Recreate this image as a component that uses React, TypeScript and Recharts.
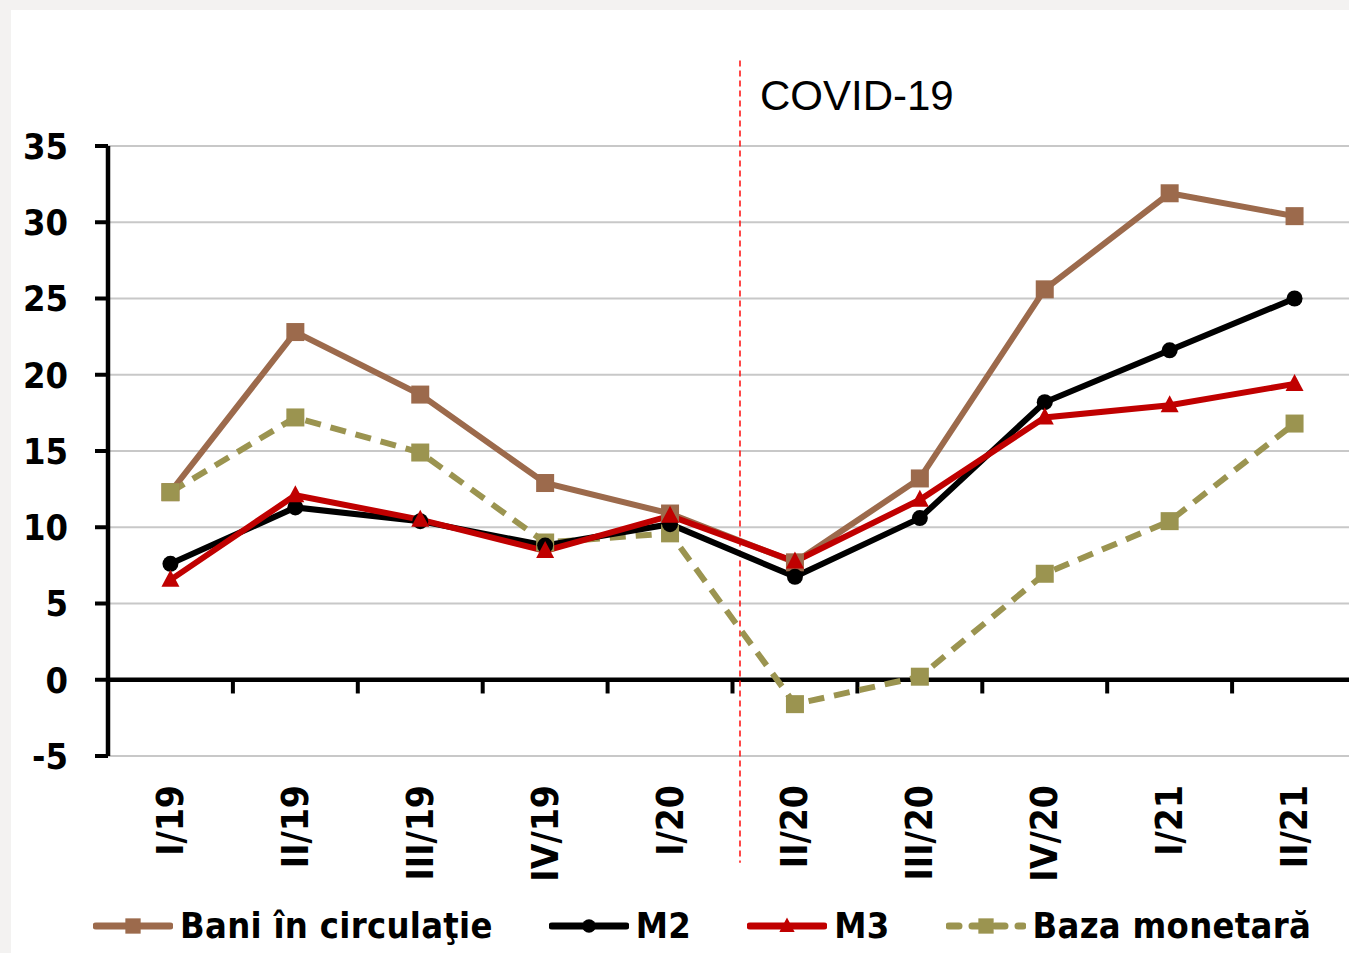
import React from "react";
import { LineChart, Line, XAxis, YAxis, CartesianGrid, ReferenceLine } from "recharts";

const quarters = ["I/19", "II/19", "III/19", "IV/19", "I/20", "II/20", "III/20", "IV/20", "I/21", "II/21"];
const baniInCirculatie = [12.3, 22.8, 18.7, 12.9, 10.9, 7.7, 13.2, 25.6, 31.9, 30.4];
const m2 = [7.6, 11.3, 10.4, 8.8, 10.2, 6.75, 10.6, 18.2, 21.6, 25.0];
const m3 = [6.55, 12.1, 10.5, 8.45, 10.75, 7.75, 11.8, 17.2, 18.0, 19.4];
const bazaMonetara = [12.3, 17.2, 14.9, 9.0, 9.6, -1.6, 0.2, 6.95, 10.4, 16.8];
const yTicks = [-5, 0, 5, 10, 15, 20, 25, 30, 35];
const covidX = 4.56;

const FONT = "'DejaVu Sans Condensed', 'DejaVu Sans', sans-serif";

type Shape = "square" | "circle" | "triangle";

const series: { key: string; name: string; color: string; shape: Shape; dashed?: boolean }[] = [
  { key: "bani", name: "Bani în circulaţie", color: "#9c6a4c", shape: "square" },
  { key: "baza", name: "Baza monetară", color: "#9b9450", shape: "square", dashed: true },
  { key: "m2", name: "M2", color: "#000000", shape: "circle" },
  { key: "m3", name: "M3", color: "#c00000", shape: "triangle" },
];
const legendOrder = ["bani", "m2", "m3", "baza"];

const data = quarters.map((q, i) => ({
  idx: i,
  q,
  bani: baniInCirculatie[i],
  m2: m2[i],
  m3: m3[i],
  baza: bazaMonetara[i],
}));

const boundaries = quarters.slice(1).map((_, i) => i + 0.5);

function marker(shape: Shape, color: string, cx: number, cy: number, s = 1) {
  if (shape === "square") {
    return <rect x={cx - 9 * s} y={cy - 9 * s} width={18 * s} height={18 * s} fill={color} />;
  }
  if (shape === "circle") {
    return <circle cx={cx} cy={cy} r={8 * s} fill={color} />;
  }
  return (
    <polygon
      points={`${cx},${cy - 10 * s} ${cx + 9 * s},${cy + 7 * s} ${cx - 9 * s},${cy + 7 * s}`}
      fill={color}
    />
  );
}

const makeDot = (shape: Shape, color: string) => (props: any) => {
  const { cx, cy, index } = props;
  if (cx == null || cy == null) return <g key={index} />;
  return <g key={index}>{marker(shape, color, cx, cy)}</g>;
};

const QuarterTick = (props: any) => {
  const { x, y, payload } = props;
  const ty = y + 29;
  return (
    <text
      x={x}
      y={ty}
      transform={`rotate(-90, ${x}, ${ty})`}
      textAnchor="end"
      dominantBaseline="central"
      fontFamily={FONT}
      fontWeight="bold"
      fontSize={37}
      fill="#000"
    >
      {quarters[payload.value]}
    </text>
  );
};

function LegendItem({ s }: { s: (typeof series)[number] }) {
  return (
    <div style={{ display: "flex", alignItems: "center", marginRight: 56 }}>
      <svg width={80} height={24} style={{ marginRight: 7 }}>
        <line
          x1={3}
          y1={12}
          x2={77}
          y2={12}
          stroke={s.color}
          strokeWidth={7}
          strokeLinecap="round"
          strokeDasharray={s.dashed ? "10 13" : undefined}
        />
        {marker(s.shape, s.color, 40, 12, 0.85)}
      </svg>
      <span>{s.name}</span>
    </div>
  );
}

export default function App() {
  return (
    <div
      style={{
        position: "fixed",
        left: 0,
        top: 0,
        width: 1349,
        height: 953,
        background: "#f3f2f1",
        overflow: "hidden",
      }}
    >
      <div style={{ position: "absolute", left: 11, top: 10, right: 0, bottom: 0, background: "#ffffff" }} />
      <div style={{ position: "absolute", left: 0, top: 0 }}>
        <LineChart width={1357} height={953} data={data} margin={{ top: 146, right: 0, bottom: 67, left: 0 }}>
          <CartesianGrid vertical={false} stroke="#c8c8c8" strokeWidth={2} />
          <XAxis
            dataKey="idx"
            type="number"
            domain={[-0.5, 9.5]}
            ticks={quarters.map((_, i) => i)}
            interval={0}
            height={130}
            axisLine={false}
            tickLine={false}
            tickSize={0}
            tickMargin={0}
            tick={<QuarterTick />}
          />
          <YAxis
            domain={[-5, 35]}
            ticks={yTicks}
            interval={0}
            width={108}
            axisLine={{ stroke: "#000", strokeWidth: 4.5 }}
            tickLine={{ stroke: "#000", strokeWidth: 4 }}
            tickSize={13}
            tickMargin={27}
            tick={{ fontFamily: FONT, fontWeight: "bold", fontSize: 36, fill: "#000" }}
          />
          <ReferenceLine y={0} stroke="#000" strokeWidth={4.5} />
          {boundaries.map((b) => (
            <ReferenceLine
              key={b}
              segment={[
                { x: b, y: 0 },
                { x: b, y: -0.9 },
              ]}
              stroke="#000"
              strokeWidth={4}
            />
          ))}
          <ReferenceLine
            segment={[
              { x: covidX, y: 40.6 },
              { x: covidX, y: -12 },
            ]}
            ifOverflow="visible"
            stroke="#ff1a1a"
            strokeWidth={1.6}
            strokeDasharray="6 4"
          />
          {series.map((s) => (
            <Line
              key={s.key}
              dataKey={s.key}
              name={s.name}
              stroke={s.color}
              strokeWidth={6}
              strokeDasharray={s.dashed ? "16 10" : undefined}
              dot={makeDot(s.shape, s.color)}
              activeDot={false}
              isAnimationActive={false}
            />
          ))}
        </LineChart>
      </div>
      <div
        style={{
          position: "absolute",
          left: 760,
          top: 72,
          fontFamily: "'Liberation Sans', Arial, sans-serif",
          fontSize: 42,
          lineHeight: "48px",
          color: "#000",
        }}
      >
        COVID-19
      </div>
      <div
        style={{
          position: "absolute",
          left: 93,
          top: 906,
          display: "flex",
          alignItems: "center",
          fontFamily: FONT,
          fontWeight: "bold",
          fontSize: 36,
          lineHeight: "40px",
          letterSpacing: 0.3,
          color: "#000",
          whiteSpace: "nowrap",
        }}
      >
        {legendOrder.map((k) => (
          <LegendItem key={k} s={series.find((s) => s.key === k)!} />
        ))}
      </div>
    </div>
  );
}
